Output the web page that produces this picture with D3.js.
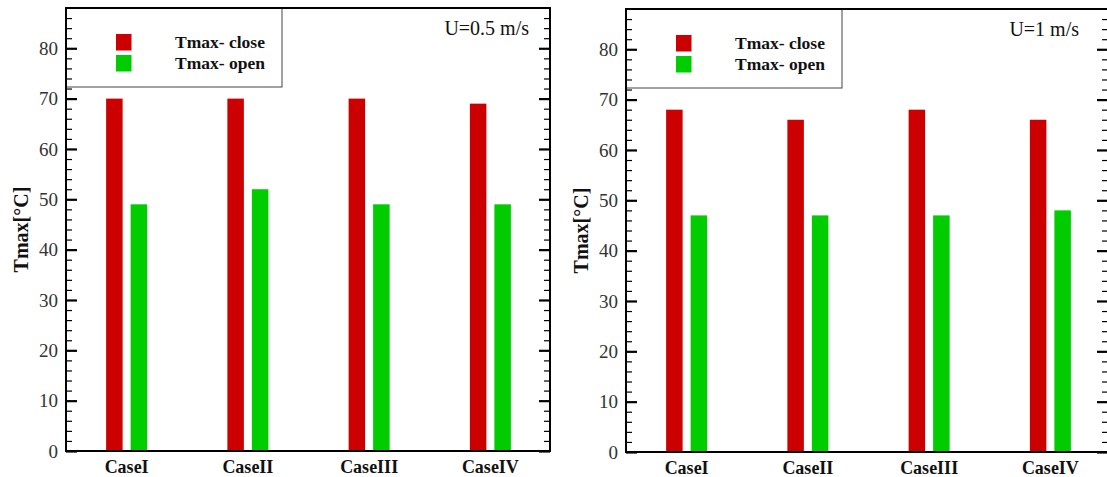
<!DOCTYPE html>
<html>
<head>
<meta charset="utf-8">
<script src="https://cdn.jsdelivr.net/npm/d3@7"></script>
<style>
    body { margin: 0; background: #fff; }
    svg text { font-family: "Liberation Serif", "Times New Roman", Times, "DejaVu Serif", serif; }
</style>
</head>
<body>
<svg id="chart" width="1107" height="477"></svg>
<script>
// Categories on the x axis
const cases = ["CaseI", "CaseII", "CaseIII", "CaseIV"];

// Series names (legend)
const seriesNames = ["Tmax- close", "Tmax- open"];

// Values for U = 0.5 m/s
const closeSlow = [70, 70, 70, 69];
const openSlow = [49, 52, 49, 49];

// Values for U = 1 m/s
const closeFast = [68, 66, 68, 66];
const openFast = [47, 47, 47, 48];

// Panel labels and y ticks
const panelLabels = ["U=0.5 m/s", "U=1 m/s"];
const majorTicks = [0, 10, 20, 30, 40, 50, 60, 70, 80];
const yTitle = "Tmax[°C]";

const colors = ["#cc0000", "#00cc00"];
const serif = "'Liberation Serif', 'Times New Roman', Times, serif";


/**
 * One bar panel with frame, legend and label
 *
 * @param svg   d3 selection of the svg
 * @param box   frame position {left, right, top, bottom, xEnd, labelX}
 * @param label panel label text
 * @param close values of the close series
 * @param open  values of the open series
 */
function drawPanel(svg, box, label, close, open) {
    let g = svg.append("g").attr("font-family", serif);

    // Scales
    let x0 = d3.scaleBand().domain(cases).range([box.left, box.xEnd]);
    let x1 = d3.scaleBand().domain(seriesNames).range([-20.5, 20.5]).paddingInner(0.327);
    let y = d3.scaleLinear().domain([0, 88]).range([box.bottom, box.top]);

    // Bars
    let rows = cases.map((c, i) => ({ name: c, values: [close[i], open[i]] }));
    g.selectAll("g.group")
        .data(rows)
        .join("g")
        .attr("class", "group")
        .attr("transform", d => "translate(" + (x0(d.name) + x0.bandwidth() / 2) + ",0)")
        .selectAll("rect")
        .data(d => d.values.map((v, k) => ({ key: seriesNames[k], value: v, k: k })))
        .join("rect")
        .attr("x", d => x1(d.key))
        .attr("width", x1.bandwidth())
        .attr("y", d => y(d.value))
        .attr("height", d => y(0) - y(d.value))
        .attr("fill", d => colors[d.k]);

    // Legend box (ticks are drawn over it later)
    let lg = g.append("g").attr("transform", "translate(" + box.left + "," + box.top + ")");
    lg.append("rect")
        .attr("width", 216)
        .attr("height", 79)
        .attr("fill", "#fff")
        .attr("stroke", "#444")
        .attr("stroke-width", 1);
    seriesNames.forEach((s, k) => {
        lg.append("rect")
            .attr("x", 50)
            .attr("y", 26 + k * 21)
            .attr("width", 15.5)
            .attr("height", 16.5)
            .attr("fill", colors[k]);
        lg.append("text")
            .attr("x", 109)
            .attr("y", 40 + k * 20.5)
            .attr("font-size", "17.5px")
            .attr("font-weight", "bold")
            .attr("fill", "#111")
            .text(s);
    });

    // Minor ticks on both sides
    let minor = d3.range(0, 88, 2).filter(v => v % 10 !== 0);
    g.append("g")
        .attr("transform", "translate(" + box.left + ",0)")
        .call(d3.axisLeft(y).tickValues(minor).tickSize(-6).tickFormat(""))
        .call(a => a.select(".domain").remove())
        .call(a => a.selectAll("line").attr("stroke-width", 1.2));
    g.append("g")
        .attr("transform", "translate(" + box.right + ",0)")
        .call(d3.axisRight(y).tickValues(minor).tickSize(-6).tickFormat(""))
        .call(a => a.select(".domain").remove())
        .call(a => a.selectAll("line").attr("stroke-width", 1.2));

    // Major ticks with labels on the left
    g.append("g")
        .attr("transform", "translate(" + box.left + ",0)")
        .call(d3.axisLeft(y).tickValues(majorTicks).tickSize(-11).tickPadding(8))
        .call(a => a.select(".domain").remove())
        .call(a => a.selectAll("line").attr("stroke-width", 2.2))
        .call(a => a.selectAll("text")
            .attr("font-size", "19px")
            .attr("font-family", serif)
            .attr("fill", "#333"));
    g.append("g")
        .attr("transform", "translate(" + box.right + ",0)")
        .call(d3.axisRight(y).tickValues(majorTicks).tickSize(-11).tickFormat(""))
        .call(a => a.select(".domain").remove())
        .call(a => a.selectAll("line").attr("stroke-width", 2.2));

    // Category labels
    g.append("g")
        .attr("transform", "translate(0," + box.bottom + ")")
        .call(d3.axisBottom(x0).tickSize(0).tickPadding(9))
        .call(a => a.select(".domain").remove())
        .call(a => a.selectAll("text")
            .attr("font-size", "18px")
            .attr("font-weight", "bold")
            .attr("font-family", serif)
            .attr("fill", "#111"));

    // Frame
    g.append("rect")
        .attr("x", box.left)
        .attr("y", box.top)
        .attr("width", box.right - box.left)
        .attr("height", box.bottom - box.top)
        .attr("fill", "none")
        .attr("stroke", "#000")
        .attr("stroke-width", 2);

    // Panel label
    g.append("text")
        .attr("x", box.labelX)
        .attr("y", box.top + 27)
        .attr("text-anchor", "end")
        .attr("font-size", "20px")
        .attr("fill", "#111")
        .text(label);

    // Y title
    g.append("text")
        .attr("transform", "translate(" + (box.left - 38) + "," + ((box.top + box.bottom) / 2) + ") rotate(-90)")
        .attr("text-anchor", "middle")
        .attr("font-size", "20px")
        .attr("font-weight", "bold")
        .attr("fill", "#111")
        .text(yTitle);
}


let svg = d3.select("#chart");

drawPanel(svg, { left: 66, right: 550, top: 8, bottom: 451, xEnd: 551, labelX: 529 },
    panelLabels[0], closeSlow, openSlow);
drawPanel(svg, { left: 626, right: 1108, top: 9, bottom: 452, xEnd: 1111, labelX: 1079 },
    panelLabels[1], closeFast, openFast);
</script>
</body>
</html>
